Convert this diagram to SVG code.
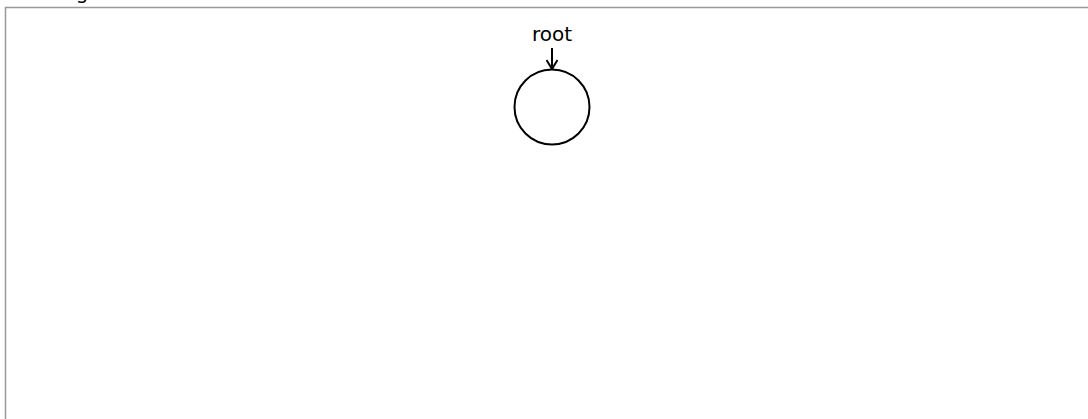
<svg xmlns="http://www.w3.org/2000/svg" width="1088" height="419" viewBox="0 0 1088 419">
<style>
.lbl{font-family:"DejaVu Sans",sans-serif;font-size:20px;fill:#000}
.node{fill:#fff;stroke:#000;stroke-width:2}
.edge{stroke:#000;stroke-width:2;fill:none}
</style>
<defs>
<marker id="arr" viewBox="0 0 12 12" refX="10" refY="6" markerWidth="12" markerHeight="12" orient="auto" markerUnits="userSpaceOnUse">
<path d="M1,0.5 L10,6 L1,11.5" fill="none" stroke="#000" stroke-width="2"/>
</marker>
</defs>
<rect width="1088" height="419" fill="#fff"/>
<text class="lbl" x="82" y="-1" text-anchor="middle">g</text>
<path d="M5.5,419 V7.5 H1088" fill="none" stroke="#999" stroke-width="1.5"/>
<g id="connectors">
<line class="edge" x1="552" y1="48" x2="552" y2="69" marker-end="url(#arr)"/>
</g>
<g id="root">
<text class="lbl" x="552" y="41" text-anchor="middle">root</text>
<circle class="node" cx="552" cy="107" r="37.5"/>
</g>
</svg>
